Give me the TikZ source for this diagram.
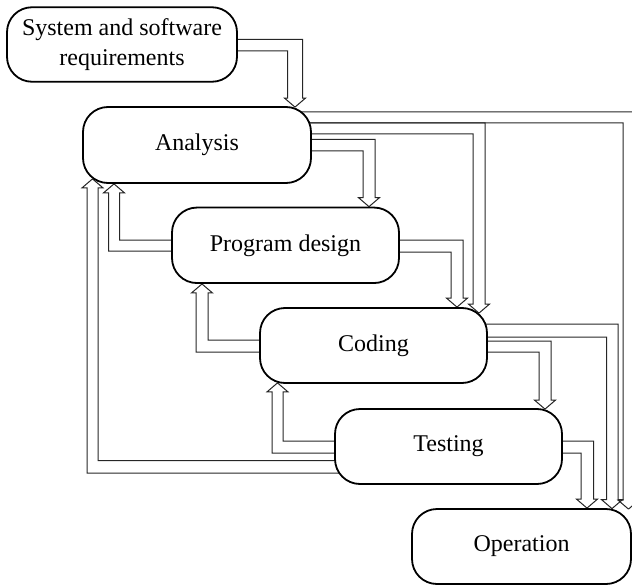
\documentclass[tikz,border=0pt]{standalone}
\usepackage{fontspec}
\setmainfont{Liberation Serif}
\usetikzlibrary{backgrounds}

\tikzset{
  stage/.style={draw=black, line width=1.8bp, fill=white, rounded corners=25bp,
    inner sep=0pt, align=center, font=\fontsize{24bp}{30bp}\selectfont},
  conn/.style={draw=black!85, line width=1bp},
}

% half width and length of the open arrow heads
\def\hw{10.5}
\def\hl{9}

% hollow elbow arrow: out of the side of #1, along the lines y=#3 (upper) and y=#4 (lower),
% down the lines x=#5 (right) and x=#6 (left), head tip at x=#7, #8 below the top of #2
\newcommand\fwdarrow[8]{%
  \draw[conn] (#7,0 |- #2.north) ++(0,#8) -- ++(\hw,-\hl) -- ++({#5-#7-\hw},0) |- (#1.center |- 0,#3);
  \draw[conn] (#7,0 |- #2.north) ++(0,#8) -- ++(-\hw,-\hl) -- ++({#6-#7+\hw},0) |- (#1.center |- 0,#4);}

% hollow elbow arrow going back up: out of the left side of #1, lines y=#3 (upper) and y=#4 (lower),
% up the lines x=#5 (right) and x=#6 (left), head tip at x=#7, #8 above the bottom of #2
\newcommand\backarrow[8]{%
  \draw[conn] (#7,0 |- #2.south) ++(0,-#8) -- ++(\hw,\hl) -- ++({#5-#7-\hw},0) |- (#1.center |- 0,#3);
  \draw[conn] (#7,0 |- #2.south) ++(0,-#8) -- ++(-\hw,\hl) -- ++({#6-#7+\hw},0) |- (#1.center |- 0,#4);}

\begin{document}
\begin{tikzpicture}[x=1bp, y=-1bp]
  \useasboundingbox (0,0) rectangle (632,585);

  % stages of the process
  \node[stage, minimum width=230bp, minimum height=74.5bp] (sys) at (122,44.5) {System and software\\requirements};
  \node[stage, minimum width=228bp, minimum height=76bp] (an)  at (197,145) {Analysis};
  \node[stage, minimum width=227bp, minimum height=75.5bp] (pd) at (285.5,245.3) {Program design};
  \node[stage, minimum width=227bp, minimum height=75bp] (cod) at (373.5,345.5) {Coding};
  \node[stage, minimum width=227bp, minimum height=75bp] (tst) at (448.5,446.5) {Testing};
  \node[stage, minimum width=219bp, minimum height=75bp] (op)  at (521.5,546.5) {Operation};

  \begin{pgfonlayer}{background}
    % forward flow
    \fwdarrow{sys}{an}{39.5}{51}{302.5}{287.5}{295}{1}
    \fwdarrow{an}{pd}{139.5}{151}{375}{363}{369}{0}
    \fwdarrow{an}{cod}{123}{134}{485}{473}{479}{6}
    \fwdarrow{an}{op}{112}{123}{634}{623}{628.5}{1}
    \fwdarrow{pd}{cod}{240}{252}{463}{451}{457}{0}
    \fwdarrow{cod}{tst}{341}{352}{551}{539}{545}{1}
    \fwdarrow{cod}{op}{324}{337}{618}{606.5}{612}{0.5}
    \fwdarrow{tst}{op}{441}{453}{593.5}{581}{587}{0}
    % feedback
    \backarrow{pd}{an}{240}{251}{119.5}{108.5}{114}{0}
    \backarrow{cod}{pd}{340}{352}{208}{196}{202}{0}
    \backarrow{tst}{cod}{441}{453}{283}{272}{277.5}{1}
    \backarrow{tst}{an}{460.5}{473}{98}{87}{92.5}{5}
  \end{pgfonlayer}
\end{tikzpicture}
\end{document}
